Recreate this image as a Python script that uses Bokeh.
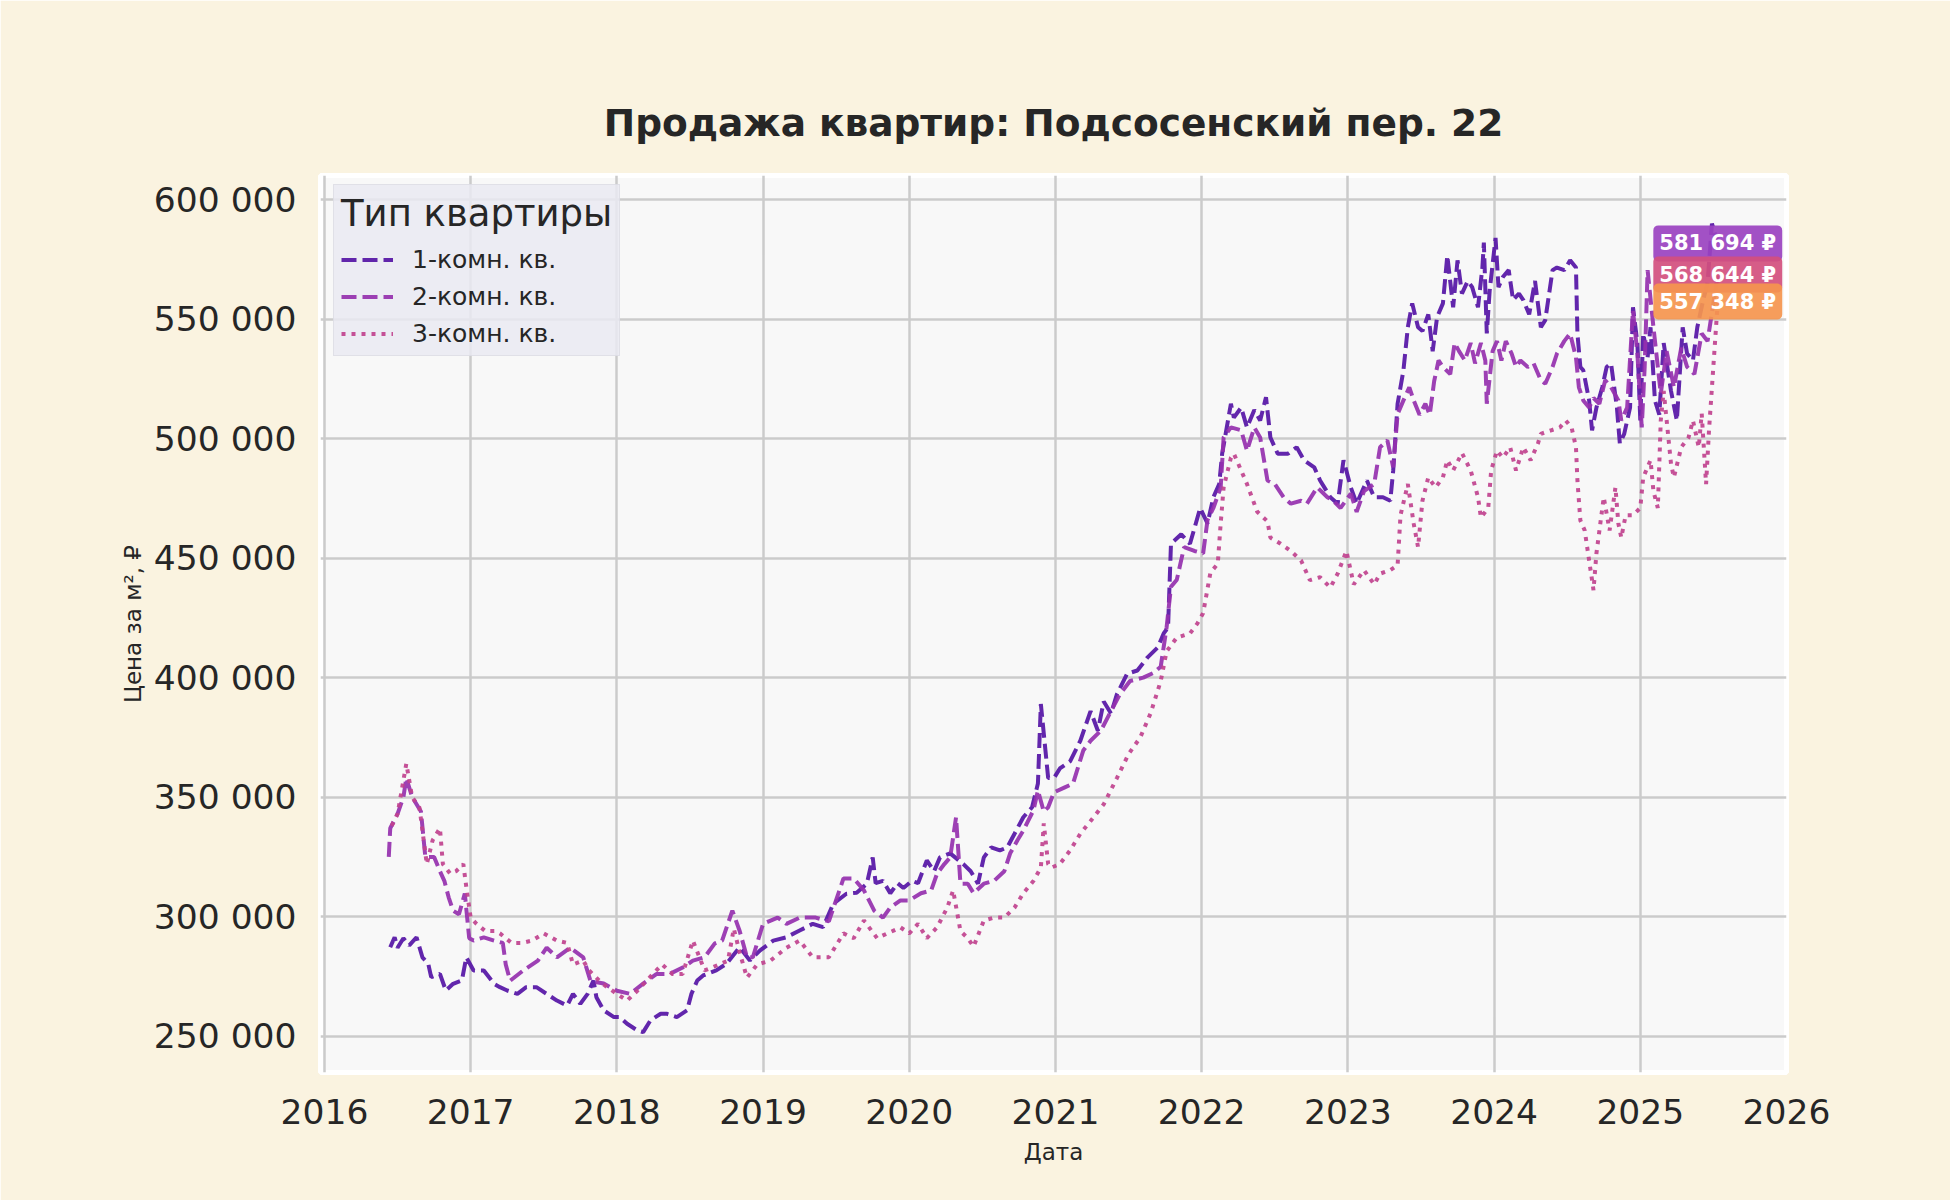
from bokeh.plotting import figure
from bokeh.models import Range1d, FixedTicker, Legend, LegendItem, ColumnDataSource
from bokeh.embed import file_html
from bokeh.resources import INLINE
from bokeh.core.properties import value

TITLE = "Продажа квартир: Подсосенский пер. 22"
X_LABEL = "Дата"
Y_LABEL = "Цена за м², ₽"
LEGEND_TITLE = "Тип квартиры"
NAMES = ["1-комн. кв.", "2-комн. кв.", "3-комн. кв."]
X_TICKS = [2016, 2017, 2018, 2019, 2020, 2021, 2022, 2023, 2024, 2025, 2026]
Y_TICKS = [250000, 300000, 350000, 400000, 450000, 500000, 550000, 600000]

# (decimal year, price in thousand rubles per m2)
room1 = [(2016.45, 287.2), (2016.48, 291.4), (2016.5, 287), (2016.54, 291), (2016.58, 288), (2016.63, 291.4),
         (2016.67, 283), (2016.71, 280.3), (2016.73, 274.7), (2016.79, 276.1), (2016.83, 269.1), (2016.88, 271.9),
         (2016.94, 273.3), (2016.97, 283), (2017.02, 277.5), (2017.09, 277.5), (2017.16, 271.9), (2017.2, 270.5),
         (2017.25, 269.1), (2017.32, 267.7), (2017.38, 270.5), (2017.45, 270.5), (2017.52, 267.7), (2017.59, 264.9),
         (2017.66, 262.8), (2017.7, 267.7), (2017.75, 263.5), (2017.8, 267.7), (2017.84, 273.3), (2017.86, 266.3),
         (2017.91, 260.8), (2017.98, 258), (2018.02, 258), (2018.07, 255.2), (2018.14, 252.4), (2018.18, 251.7),
         (2018.23, 256.6), (2018.3, 259.4), (2018.34, 259.4), (2018.41, 258), (2018.48, 260.8), (2018.51, 267.7),
         (2018.55, 273.3), (2018.59, 275.4), (2018.68, 277.5), (2018.75, 280.3), (2018.84, 287.2), (2018.91, 281.7),
         (2018.98, 285.9), (2019.07, 290), (2019.16, 291.4), (2019.25, 294.2), (2019.34, 297), (2019.41, 295.6),
         (2019.48, 305.4), (2019.57, 309.6), (2019.64, 310), (2019.71, 313.8), (2019.75, 324.8), (2019.77, 314),
         (2019.82, 315), (2019.87, 309.8), (2019.92, 314), (2019.96, 312), (2020.02, 315), (2020.06, 314),
         (2020.12, 323.5), (2020.17, 319), (2020.21, 324.8), (2020.28, 326.5), (2020.37, 322), (2020.42, 319),
         (2020.47, 313.8), (2020.51, 324.8), (2020.56, 329), (2020.62, 327.7), (2020.67, 329), (2020.72, 334.7),
         (2020.78, 341.6), (2020.84, 345.8), (2020.88, 355.7), (2020.9, 389), (2020.95, 358), (2020.99, 358),
         (2021.03, 362), (2021.1, 365), (2021.17, 373.6), (2021.24, 386), (2021.29, 377.8), (2021.33, 390),
         (2021.38, 385), (2021.42, 393), (2021.49, 401.6), (2021.56, 403), (2021.63, 408.5), (2021.7, 412.7),
         (2021.74, 418.5), (2021.77, 421), (2021.79, 456), (2021.86, 460), (2021.92, 456), (2021.99, 471),
         (2022.04, 464.5), (2022.08, 475.5), (2022.12, 481), (2022.14, 493.7), (2022.2, 514.6), (2022.22, 508.8),
         (2022.27, 513), (2022.31, 504.7), (2022.36, 512), (2022.4, 507.6), (2022.44, 517.3), (2022.47, 500.5),
         (2022.52, 493.7), (2022.59, 493.7), (2022.65, 496.4), (2022.7, 491), (2022.77, 488), (2022.81, 482.5),
         (2022.88, 475.5), (2022.93, 472.8), (2022.97, 491), (2023.02, 479.6), (2023.06, 472.8), (2023.13, 482.5),
         (2023.18, 475.5), (2023.24, 475.5), (2023.29, 474), (2023.31, 486.7), (2023.34, 514.6), (2023.38, 528.6),
         (2023.41, 546.6), (2023.44, 556.6), (2023.48, 546.6), (2023.51, 545), (2023.55, 552), (2023.58, 536.6),
         (2023.61, 550.8), (2023.65, 556.6), (2023.68, 576.6), (2023.72, 555), (2023.75, 574.6), (2023.78, 560.7),
         (2023.82, 566), (2023.85, 563.4), (2023.89, 555), (2023.92, 571.6), (2023.93, 582), (2023.95, 544),
         (2023.97, 562), (2024.01, 584), (2024.03, 563.4), (2024.06, 567.6), (2024.1, 570.5), (2024.13, 558),
         (2024.17, 560.7), (2024.2, 558), (2024.24, 552), (2024.28, 566), (2024.32, 546.6), (2024.35, 549.6),
         (2024.4, 570.5), (2024.43, 571.6), (2024.48, 570.5), (2024.52, 574.6), (2024.56, 571.6), (2024.57, 544),
         (2024.59, 530), (2024.61, 528.6), (2024.65, 516), (2024.67, 503.5), (2024.7, 513), (2024.74, 521.5),
         (2024.77, 530), (2024.8, 531.5), (2024.84, 513), (2024.86, 498), (2024.89, 502), (2024.93, 513),
         (2024.95, 555), (2024.98, 540), (2025.0, 507.6), (2025.02, 544), (2025.05, 534), (2025.07, 546.6),
         (2025.1, 516), (2025.13, 510), (2025.16, 540), (2025.21, 520), (2025.25, 507.6), (2025.29, 546.6),
         (2025.32, 535.6), (2025.36, 532.7), (2025.39, 546.6), (2025.43, 558), (2025.46, 565), (2025.49, 590),
         (2025.53, 581.694)]

room2 = [(2016.44, 325), (2016.45, 337), (2016.5, 343), (2016.54, 350), (2016.56, 358), (2016.6, 350),
         (2016.66, 344), (2016.69, 325), (2016.75, 325), (2016.79, 319), (2016.82, 315), (2016.85, 308),
         (2016.88, 302.5), (2016.92, 301), (2016.96, 309.7), (2016.99, 291), (2017.02, 290), (2017.09, 291.3),
         (2017.16, 290), (2017.22, 289), (2017.24, 280), (2017.27, 273.2), (2017.36, 277.5), (2017.46, 281.6),
         (2017.52, 287), (2017.59, 283), (2017.68, 287), (2017.77, 283), (2017.82, 273), (2017.91, 272),
         (2018.0, 269), (2018.09, 267.7), (2018.18, 272), (2018.27, 276), (2018.36, 276), (2018.45, 278.7),
         (2018.52, 281.6), (2018.6, 283), (2018.67, 288.8), (2018.72, 290), (2018.79, 302.5), (2018.84, 294),
         (2018.89, 283), (2018.93, 283), (2019.0, 297), (2019.1, 299.6), (2019.16, 297), (2019.25, 299.6),
         (2019.36, 299.6), (2019.45, 298), (2019.55, 316), (2019.62, 316), (2019.69, 311), (2019.76, 302.5),
         (2019.82, 299.6), (2019.87, 303.8), (2019.94, 306.8), (2020.0, 306.8), (2020.08, 309.8), (2020.15, 311),
         (2020.19, 318), (2020.24, 322), (2020.28, 324.8), (2020.32, 341.6), (2020.35, 313.8), (2020.4, 313.8),
         (2020.44, 309.8), (2020.51, 313.8), (2020.58, 315), (2020.65, 319), (2020.69, 326.5), (2020.74, 332),
         (2020.78, 336), (2020.85, 344.6), (2020.88, 352.8), (2020.92, 344), (2020.95, 345.8), (2020.99, 352),
         (2021.06, 354), (2021.12, 355.7), (2021.19, 369.5), (2021.24, 373.6), (2021.31, 377.8), (2021.38, 386),
         (2021.44, 393), (2021.51, 398.6), (2021.6, 400), (2021.67, 402), (2021.72, 404.6), (2021.76, 421),
         (2021.79, 438), (2021.83, 441), (2021.88, 454.6), (2021.95, 453), (2022.01, 452), (2022.04, 466),
         (2022.08, 471), (2022.13, 479.6), (2022.15, 500.5), (2022.2, 504.7), (2022.27, 503.5), (2022.31, 495),
         (2022.36, 504.7), (2022.4, 500.5), (2022.45, 482.5), (2022.5, 481), (2022.56, 475.5), (2022.61, 472.8),
         (2022.68, 474), (2022.72, 472.8), (2022.79, 479.6), (2022.86, 475.5), (2022.9, 474), (2022.95, 471),
         (2023.02, 477), (2023.06, 469.4), (2023.11, 478), (2023.18, 481), (2023.22, 496.4), (2023.27, 499.3),
         (2023.31, 488), (2023.34, 510.3), (2023.38, 516), (2023.42, 521.5), (2023.45, 516), (2023.49, 510),
         (2023.53, 514.6), (2023.56, 510), (2023.59, 524), (2023.62, 532.7), (2023.65, 530), (2023.7, 527),
         (2023.73, 540), (2023.76, 536.6), (2023.8, 532.7), (2023.84, 540), (2023.87, 531.5), (2023.91, 540),
         (2023.94, 532.7), (2023.95, 514.6), (2023.99, 536.6), (2024.02, 540.8), (2024.05, 532.7), (2024.08, 540.8),
         (2024.12, 535.6), (2024.15, 530), (2024.18, 532.7), (2024.23, 530), (2024.27, 531.5), (2024.32, 524.4),
         (2024.35, 523), (2024.4, 530), (2024.43, 535.6), (2024.48, 540.8), (2024.52, 544), (2024.56, 534),
         (2024.58, 521.5), (2024.61, 516), (2024.65, 513), (2024.68, 517), (2024.72, 514.6), (2024.76, 524.4),
         (2024.8, 521.5), (2024.85, 516), (2024.87, 507.6), (2024.91, 513), (2024.95, 553.6), (2024.98, 535.6),
         (2025.01, 504.7), (2025.03, 530), (2025.05, 570.5), (2025.09, 546.6), (2025.14, 518.8), (2025.18, 536.6),
         (2025.23, 521.5), (2025.28, 538), (2025.32, 530), (2025.37, 527), (2025.42, 544), (2025.46, 540.8),
         (2025.53, 568.644)]

room3 = [(2016.46, 338), (2016.5, 343), (2016.54, 357), (2016.56, 364), (2016.6, 350), (2016.65, 345.6),
         (2016.7, 322), (2016.74, 332), (2016.79, 337), (2016.81, 322), (2016.86, 318), (2016.9, 319),
         (2016.95, 322), (2016.97, 312.5), (2017.0, 299.6), (2017.04, 297), (2017.1, 294), (2017.17, 294),
         (2017.2, 293), (2017.28, 289), (2017.35, 289), (2017.42, 290), (2017.5, 293), (2017.59, 290),
         (2017.66, 289), (2017.7, 280), (2017.77, 281.6), (2017.81, 277.5), (2017.9, 272), (2018.0, 267.7),
         (2018.07, 264.9), (2018.14, 269), (2018.2, 273), (2018.27, 277.5), (2018.31, 280), (2018.38, 276),
         (2018.45, 276), (2018.52, 290), (2018.6, 277.5), (2018.7, 280), (2018.76, 281.6), (2018.8, 295),
         (2018.84, 285), (2018.89, 274.5), (2018.96, 280), (2019.05, 281.6), (2019.16, 287), (2019.25, 290),
         (2019.34, 283), (2019.45, 283), (2019.55, 293), (2019.62, 291), (2019.69, 298.4), (2019.78, 291),
         (2019.85, 293), (2019.94, 295.5), (2020.0, 293), (2020.06, 297), (2020.12, 291), (2020.19, 295.5),
         (2020.26, 303.8), (2020.3, 311), (2020.35, 294), (2020.4, 291), (2020.44, 287.5), (2020.51, 298.4),
         (2020.58, 299.6), (2020.65, 299.6), (2020.72, 303.8), (2020.78, 309.8), (2020.85, 315), (2020.9, 320.5),
         (2020.92, 339), (2020.95, 322), (2020.97, 320.5), (2021.03, 322), (2021.1, 327.7), (2021.17, 334.7),
         (2021.24, 340), (2021.33, 347), (2021.42, 358), (2021.5, 368), (2021.58, 375), (2021.65, 385),
         (2021.72, 398.6), (2021.76, 411), (2021.83, 416.8), (2021.92, 418.5), (2021.97, 422.6), (2022.01, 427),
         (2022.06, 444), (2022.11, 447.6), (2022.13, 464.5), (2022.15, 479.6), (2022.2, 492), (2022.22, 493.7),
         (2022.27, 486.7), (2022.31, 481), (2022.38, 469.4), (2022.45, 465.4), (2022.47, 458.6), (2022.54, 456),
         (2022.61, 453), (2022.68, 449), (2022.74, 440.8), (2022.81, 442), (2022.88, 437.7), (2022.93, 443.5),
         (2022.99, 453), (2023.04, 439), (2023.11, 445), (2023.18, 439), (2023.22, 443.5), (2023.29, 445),
         (2023.34, 447), (2023.36, 468), (2023.41, 481), (2023.45, 464.5), (2023.48, 454.6), (2023.51, 474),
         (2023.55, 483.8), (2023.6, 479.6), (2023.65, 483.8), (2023.68, 491), (2023.72, 486.7), (2023.78, 494),
         (2023.84, 486.7), (2023.89, 475.5), (2023.91, 467), (2023.96, 471), (2023.98, 486.7), (2024.02, 495),
         (2024.06, 492), (2024.11, 496.4), (2024.15, 486.7), (2024.2, 496.4), (2024.25, 491), (2024.3, 498),
         (2024.32, 502), (2024.39, 503.5), (2024.45, 504.7), (2024.49, 507.6), (2024.53, 504.7), (2024.56, 496.4),
         (2024.57, 482.5), (2024.59, 465.8), (2024.62, 461.6), (2024.65, 449), (2024.67, 440.8), (2024.68, 436.6),
         (2024.7, 452), (2024.75, 475.5), (2024.79, 461.6), (2024.83, 479.6), (2024.85, 464.5), (2024.87, 458.6),
         (2024.9, 468), (2024.95, 468), (2025.0, 471), (2025.02, 483.8), (2025.07, 491), (2025.09, 478),
         (2025.12, 471), (2025.14, 507.6), (2025.16, 520), (2025.21, 489.5), (2025.23, 483.8), (2025.28, 496.4),
         (2025.33, 500.5), (2025.36, 507.6), (2025.4, 496.4), (2025.42, 510.5), (2025.45, 481), (2025.47, 503.5),
         (2025.53, 557.348)]

SERIES = [room1, room2, room3]
LINE_COLORS = ["#5514a5", "#9530ae", "#c0428e"]
LINE_DASH = ["15 6", "15 6", "4 6"]
BOX_COLORS = ["#9a42c0", "#d24f7e", "#f5954e"]

BG = "#faf3e0"
TXT = "#262626"
FONT = "DejaVu Sans"

p = figure(width=1950, height=1200, output_backend="svg", toolbar_location=None,
           title=TITLE,
           x_range=Range1d(2015.973, 2026.0), y_range=Range1d(234800, 610100),
           min_border_left=320, min_border_right=164, min_border_top=175, min_border_bottom=128)

p.background_fill_color = "#f8f8f8"
p.border_fill_color = BG
p.outline_line_color = "white"
p.outline_line_width = 5

p.title.align = "center"
p.title.text_font = FONT
p.title.text_font_size = "37.5px"
p.title.text_font_style = "bold"
p.title.text_color = TXT
p.title.standoff = 62

p.xaxis.ticker = FixedTicker(ticks=X_TICKS)
p.xaxis.major_label_overrides = {t: str(t) for t in X_TICKS}
p.yaxis.ticker = FixedTicker(ticks=Y_TICKS)
p.yaxis.major_label_overrides = {t: f"{t:,}".replace(",", " ") for t in Y_TICKS}

for ax in (p.xaxis, p.yaxis):
    ax.axis_line_color = None
    ax.major_tick_line_color = None
    ax.minor_tick_line_color = None
    ax.major_label_text_font = FONT
    ax.major_label_text_font_size = "34.5px"
    ax.major_label_text_color = TXT
    ax.axis_label_text_font = FONT
    ax.axis_label_text_font_size = "23px"
    ax.axis_label_text_font_style = "normal"
    ax.axis_label_text_color = TXT

p.xaxis.axis_label = X_LABEL
p.yaxis.axis_label = Y_LABEL
p.xaxis.major_label_standoff = 20
p.yaxis.major_label_standoff = 18
p.xaxis.axis_label_standoff = 12
p.yaxis.axis_label_standoff = 5

p.grid.grid_line_color = "#cbcbcb"
p.grid.grid_line_width = 2.5

items = []
for name, data, col, dash in zip(NAMES, SERIES, LINE_COLORS, LINE_DASH):
    xs = [d[0] for d in data]
    ys = [d[1] * 1000 for d in data]
    r = p.line(xs, ys, line_color=col, line_width=4, line_dash=dash, line_alpha=0.92)
    items.append(LegendItem(label=name, renderers=[r]))

last_x = [s[-1][0] for s in SERIES]
last_y = [s[-1][1] * 1000 for s in SERIES]
last_txt = [f"{round(v):,}".replace(",", " ") + " ₽" for v in last_y]
src = ColumnDataSource(dict(x=last_x, y=last_y, text=last_txt, bg=BOX_COLORS))
lab = p.text(x="x", y="y", text="text", source=src, text_align="center", text_baseline="middle",
             text_color="white", text_font=value(FONT), text_font_size="21px", text_font_style="bold")
lab.glyph.background_fill_color = "bg"
lab.glyph.background_fill_alpha = 0.92
lab.glyph.padding = 6
lab.glyph.border_radius = 5

legend = Legend(items=items, title=LEGEND_TITLE, location=(13, 716))
legend.margin = 0
legend.padding = 7
legend.spacing = 8
legend.title_standoff = 10
legend.title_text_font = FONT
legend.title_text_font_size = "37px"
legend.title_text_font_style = "normal"
legend.title_text_color = TXT
legend.label_text_font = FONT
legend.label_text_font_size = "25px"
legend.label_text_color = TXT
legend.label_standoff = 19
legend.label_height = 25
legend.glyph_height = 25
legend.glyph_width = 52
legend.background_fill_color = "#eaeaf2"
legend.background_fill_alpha = 0.85
legend.border_line_color = "#d4d4dc"
legend.border_line_width = 1.5
p.add_layout(legend)

html = file_html(p, INLINE, title=TITLE)
html = html.replace("<body>", f'<body style="background-color:{BG};">', 1)
open("out.html", "w").write(html)
